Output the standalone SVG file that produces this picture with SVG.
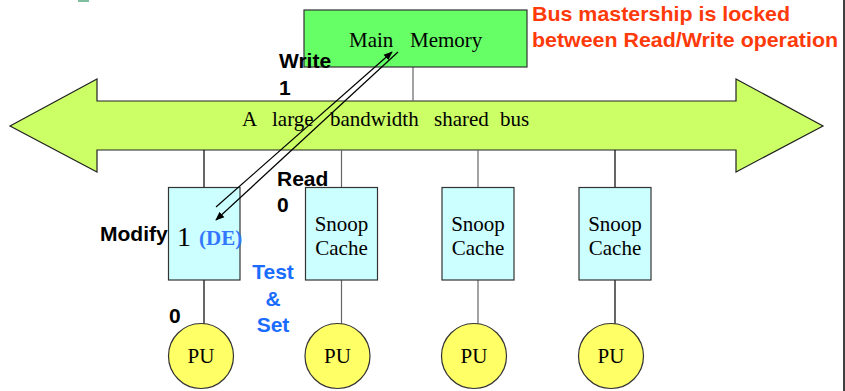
<svg xmlns="http://www.w3.org/2000/svg" width="845" height="391" viewBox="0 0 845 391">
  <style>
    .serif { font-family: "Liberation Serif", "Times New Roman", serif; font-size: 21px; fill: #000; }
    .lbl { font-family: "Liberation Sans", Arial, sans-serif; font-weight: bold; font-size: 21px; fill: #000; }
    .blue { font-family: "Liberation Sans", Arial, sans-serif; font-weight: bold; font-size: 21px; fill: #1a6cff; }
    .note { font-family: "Liberation Sans", Arial, sans-serif; font-weight: bold; font-size: 20.5px; fill: #ff3a0a; }
    .cache { fill: #ccffff; stroke: #333; stroke-width: 1.2; }
    .pu { fill: #ffff66; stroke: #333; stroke-width: 1.2; }
    .link { stroke: #000; stroke-width: 1.2; fill: none; }
    .link.grey { stroke: #666; }
    .flow { stroke: #000; stroke-width: 1.2; fill: none; marker-end: url(#head); }
  </style>
  <defs>
    <marker id="head" viewBox="0 0 10 10" refX="9" refY="5" markerWidth="9" markerHeight="9" markerUnits="userSpaceOnUse" orient="auto">
      <path d="M0,1 L10,5 L0,9 Z" fill="#000"/>
    </marker>
  </defs>

  <rect x="78" y="0" width="11" height="2" fill="#7fbf9f"/>
  <line x1="844" y1="0" x2="844" y2="391" stroke="#000" stroke-width="1.5"/>

  <!-- shared bus (double-headed block arrow) -->
  <g id="bus">
    <polygon points="10,126 97,79 97,101 736,101 736,79 823,126 736,172 736,150 97,150 97,172" fill="#ccff66" stroke="#222" stroke-width="1.2"/>
    <text class="serif" y="126"><tspan x="242">A</tspan><tspan x="272">large</tspan><tspan x="330">bandwidth</tspan><tspan x="434">shared</tspan><tspan x="500">bus</tspan></text>
  </g>

  <!-- bus taps -->
  <g id="connectors">
    <line class="link grey" x1="413" y1="67" x2="413" y2="101"/>
    <line class="link" x1="204" y1="150" x2="204" y2="187.5"/>
    <line class="link grey" x1="341.5" y1="150" x2="341.5" y2="187.5"/>
    <line class="link grey" x1="478" y1="150" x2="478" y2="187.5"/>
    <line class="link" x1="615" y1="150" x2="615" y2="187.5"/>
    <line class="link" x1="204" y1="280" x2="204" y2="324"/>
    <line class="link grey" x1="341.5" y1="280" x2="341.5" y2="324"/>
    <line class="link grey" x1="478" y1="280" x2="478" y2="324"/>
    <line class="link" x1="615" y1="280" x2="615" y2="324"/>
  </g>

  <g id="memory">
    <rect x="304" y="10" width="223" height="57" fill="#66ff66" stroke="#333" stroke-width="1.2"/>
    <text class="serif" y="47"><tspan x="349">Main</tspan><tspan x="410">Memory</tspan></text>
  </g>

  <g id="cache1">
    <rect class="cache" x="168.5" y="187.5" width="71.5" height="92.5"/>
    <text x="177" y="246" font-family="Liberation Serif, serif" font-size="28" fill="#000">1</text>
    <text x="199" y="245" font-family="Liberation Serif, serif" font-weight="bold" font-size="21" fill="#3377ff">(DE)</text>
  </g>
  <g id="cache2">
    <rect class="cache" x="305.5" y="187.5" width="72" height="92.5"/>
    <text class="serif" text-anchor="middle" x="341.5" y="231">Snoop</text>
    <text class="serif" text-anchor="middle" x="341.5" y="255">Cache</text>
  </g>
  <g id="cache3">
    <rect class="cache" x="442" y="187.5" width="72" height="92.5"/>
    <text class="serif" text-anchor="middle" x="478" y="231">Snoop</text>
    <text class="serif" text-anchor="middle" x="478" y="255">Cache</text>
  </g>
  <g id="cache4">
    <rect class="cache" x="579" y="187.5" width="72" height="92.5"/>
    <text class="serif" text-anchor="middle" x="615" y="231">Snoop</text>
    <text class="serif" text-anchor="middle" x="615" y="255">Cache</text>
  </g>

  <g id="pu1">
    <circle class="pu" cx="201" cy="356" r="32.5"/>
    <text class="serif" text-anchor="middle" x="201" y="363">PU</text>
  </g>
  <g id="pu2">
    <circle class="pu" cx="337.5" cy="356" r="32.5"/>
    <text class="serif" text-anchor="middle" x="337.5" y="363">PU</text>
  </g>
  <g id="pu3">
    <circle class="pu" cx="474" cy="356" r="32.5"/>
    <text class="serif" text-anchor="middle" x="474" y="363">PU</text>
  </g>
  <g id="pu4">
    <circle class="pu" cx="611" cy="356" r="32.5"/>
    <text class="serif" text-anchor="middle" x="611" y="363">PU</text>
  </g>

  <!-- read / write transfers between cache and memory, drawn over the boxes -->
  <g id="transfers">
    <line class="flow" x1="216" y1="207" x2="392" y2="52"/>
    <line class="flow" x1="398" y1="52" x2="216" y2="220"/>
  </g>

  <!-- operation labels -->
  <g id="labels">
    <text class="lbl" x="279" y="68">Write</text>
    <text class="lbl" x="279" y="95">1</text>
    <text class="lbl" x="277" y="186">Read</text>
    <text class="lbl" x="277" y="212">0</text>
    <text class="lbl" x="100" y="241">Modify</text>
    <text class="lbl" x="169" y="323">0</text>
    <text class="blue" text-anchor="middle" x="273" y="279">Test</text>
    <text class="blue" text-anchor="middle" x="273" y="306">&amp;</text>
    <text class="blue" text-anchor="middle" x="273" y="332">Set</text>
    <text class="note" x="532" y="21" textLength="258" lengthAdjust="spacingAndGlyphs">Bus mastership is locked</text>
    <text class="note" x="532" y="47" textLength="306" lengthAdjust="spacingAndGlyphs">between Read/Write operation</text>
  </g>
</svg>
